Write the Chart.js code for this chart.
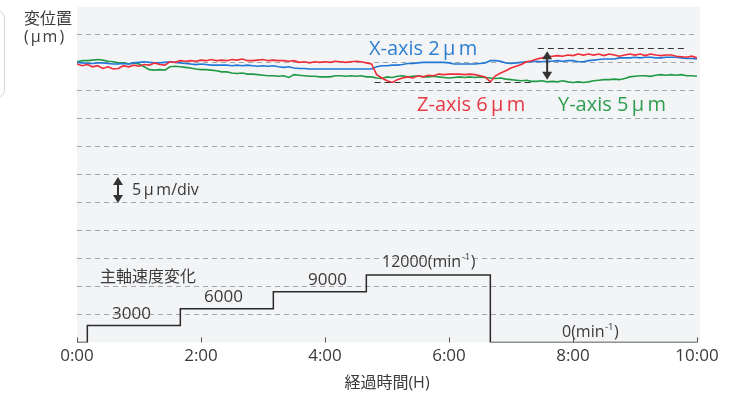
<!DOCTYPE html>
<html><head><meta charset="utf-8">
<script src="https://cdn.jsdelivr.net/npm/chart.js@4/dist/chart.umd.min.js"></script>
<style>html,body{margin:0;padding:0;background:#fff;}canvas{display:block;}</style>
</head><body>
<canvas id="c" width="735" height="393"></canvas>
<script>
// ---- data ----
// sampling grid: elapsed minutes, every 5 min from 0:00 to 10:00
const sampleMinutes = [];
for (let m = 0; m <= 600; m += 5) sampleMinutes.push(m);

// displacement in µm (absolute level on a 0–60 µm frame, 5 µm/div)
const xAxisUm = [
50.1,50.0,49.9,49.9,50.0,50.0,49.9,49.8,49.8,49.9,
49.8,50.0,50.1,50.2,50.1,50.0,50.0,50.1,50.2,50.1,
50.0,49.9,49.8,49.7,49.8,49.7,49.6,49.6,49.6,49.6,
49.5,49.6,49.5,49.6,49.5,49.4,49.5,49.4,49.5,49.3,
49.2,49.3,49.1,49.0,49.0,48.9,48.9,48.9,48.9,48.9,
48.9,48.9,48.9,48.9,48.9,48.9,48.9,48.9,49.3,49.5,
49.5,49.6,49.6,49.7,49.9,49.9,50.0,50.1,50.1,50.1,
50.1,50.1,50.0,49.8,49.8,49.8,49.8,49.8,49.9,50.0,
50.4,50.4,50.3,50.0,49.9,50.0,50.1,50.2,50.2,50.3,
50.2,50.3,50.3,50.4,50.3,50.4,50.4,50.2,50.2,50.4,
50.5,50.6,50.7,50.7,50.7,50.9,50.9,50.9,51.0,50.9,
51.0,51.0,50.9,50.9,51.0,51.0,51.0,50.9,50.8,50.8,50.7];

const yAxisUm = [
50.2,50.4,50.4,50.5,50.6,50.5,50.3,50.2,50.0,50.0,
49.8,50.0,49.8,49.3,48.8,48.7,48.8,48.7,49.3,49.4,
49.3,49.2,49.1,48.9,48.8,48.8,48.7,48.6,48.4,48.4,
48.2,48.1,48.2,48.0,48.0,47.9,47.8,47.7,47.7,47.6,
47.7,47.4,47.9,47.8,47.7,47.6,47.6,47.5,47.5,47.5,
47.7,47.7,47.6,47.7,47.6,47.7,47.5,47.5,47.3,47.2,
47.5,47.4,47.6,47.7,47.5,47.6,47.7,47.5,47.5,47.6,
47.5,47.4,47.3,47.4,47.5,47.4,47.5,47.4,47.5,47.4,
47.3,47.2,47.3,47.1,47.0,46.9,46.8,46.9,46.7,46.7,
46.8,46.6,46.7,46.6,46.8,46.6,46.5,46.6,46.5,46.6,
46.8,46.9,47.0,47.0,47.1,47.0,47.2,47.5,47.6,47.7,
47.7,47.6,47.8,47.9,47.8,47.9,47.8,47.9,47.7,47.7,47.6];

const zAxisUm = [
49.8,49.5,49.7,49.3,49.5,49.0,49.3,48.9,49.0,49.5,
49.3,49.6,49.4,49.7,49.6,50.0,49.7,49.6,50.2,50.1,
50.4,50.3,50.4,50.3,50.5,50.4,50.6,50.4,50.5,50.4,
50.6,50.5,50.7,50.4,50.4,50.5,50.6,50.4,50.5,50.4,
50.4,50.3,50.4,50.1,50.2,50.0,50.2,50.1,50.2,50.1,
50.3,50.2,50.1,50.2,50.3,50.2,50.0,49.8,47.9,47.3,
46.8,46.5,47.0,47.3,47.5,47.3,47.7,47.5,47.8,47.7,
48.0,47.9,48.0,48.0,48.0,47.9,48.0,47.9,47.7,47.5,
46.6,47.7,48.2,48.6,49.1,49.4,49.7,50.2,50.4,50.7,
50.9,51.1,51.2,51.3,51.2,51.4,51.3,51.6,51.4,51.6,
51.4,51.6,51.3,51.6,51.4,51.2,51.4,51.6,51.4,51.6,
51.3,51.6,51.4,51.3,51.4,51.4,51.2,51.1,51.0,51.2,50.9];

// spindle speed steps (min^-1) and the minute at which each step is reached
const spindleMinutes = [0, 10, 100, 190, 280, 400, 600];
const spindleSpeeds  = [0, 3000, 6000, 9000, 12000, 0, 0];

const timeTickValues = [0, 120, 240, 360, 480, 600];
const timeTickLabels = ['0:00', '2:00', '4:00', '6:00', '8:00', '10:00'];

// Z range markers (µm) shown as black dashed lines
const zRangeMax = 52.7, zRangeMin = 46.5;

// ---- chart ----
const FONT = "'Open Sans','Noto Sans CJK JP',sans-serif";
const toXY = (xs, ys) => xs.map((x, i) => ({x, y: ys[i]}));

function text(ctx, s, x, mid, size, color, spacing) {
  ctx.font = size + 'px ' + FONT;
  ctx.fillStyle = color;
  ctx.textAlign = 'left';
  ctx.textBaseline = 'alphabetic';
  ctx.letterSpacing = spacing || '0px';
  ctx.fillText(s, x, mid + 0.36 * size);
  const w = ctx.measureText(s).width;
  ctx.letterSpacing = '0px';
  return w;
}
function minText(ctx, prefix, x, mid, size, color) {
  let cx = x;
  cx += text(ctx, prefix + '(min', cx, mid, size, color);
  cx += text(ctx, '-1', cx + 0.5, mid - size * 0.32, size * 0.6, color) + 1;
  text(ctx, ')', cx, mid, size, color);
}
function dblArrow(ctx, x, y1, y2, hw, hh, color) {
  ctx.save();
  ctx.strokeStyle = color; ctx.fillStyle = color; ctx.lineWidth = 2;
  ctx.beginPath(); ctx.moveTo(x, y1 + hh - 1); ctx.lineTo(x, y2 - hh + 1); ctx.stroke();
  ctx.beginPath(); ctx.moveTo(x, y1); ctx.lineTo(x - hw, y1 + hh); ctx.lineTo(x + hw, y1 + hh); ctx.closePath(); ctx.fill();
  ctx.beginPath(); ctx.moveTo(x, y2); ctx.lineTo(x - hw, y2 - hh); ctx.lineTo(x + hw, y2 - hh); ctx.closePath(); ctx.fill();
  ctx.restore();
}

const decor = {
  id: 'decor',
  beforeDraw(chart) {
    const {ctx, chartArea: a} = chart;
    ctx.save();
    ctx.fillStyle = '#f3f4f6';
    ctx.fillRect(a.left, a.top, a.right - a.left + 3, a.bottom - a.top);
    // faint frame fragment at the far left of the reference
    ctx.strokeStyle = '#d4d4d4'; ctx.lineWidth = 1;
    ctx.beginPath(); ctx.roundRect(-20.5, 10.5, 25, 87, 8); ctx.stroke();
    ctx.restore();
  },
  afterDatasetsDraw(chart) {
    const {ctx, chartArea: a, scales} = chart;
    const xs = scales.x, ys = scales.y;
    ctx.save();
    // inward tick marks
    ctx.strokeStyle = '#555'; ctx.lineWidth = 1;
    timeTickValues.forEach(v => {
      const px = Math.round(xs.getPixelForValue(v)) + 0.5;
      ctx.beginPath(); ctx.moveTo(px, a.bottom - 5); ctx.lineTo(px, a.bottom); ctx.stroke();
    });
    // Z range dashed lines
    ctx.strokeStyle = '#333'; ctx.lineWidth = 1.2; ctx.setLineDash([6, 4]);
    let yy = Math.round(ys.getPixelForValue(zRangeMax)) + 0.5;
    ctx.beginPath(); ctx.moveTo(xs.getPixelForValue(446), yy); ctx.lineTo(xs.getPixelForValue(590), yy); ctx.stroke();
    yy = Math.round(ys.getPixelForValue(zRangeMin)) + 0.5;
    ctx.beginPath(); ctx.moveTo(xs.getPixelForValue(288), yy); ctx.lineTo(xs.getPixelForValue(440), yy); ctx.stroke();
    ctx.setLineDash([]);
    dblArrow(ctx, xs.getPixelForValue(455), ys.getPixelForValue(52.1), ys.getPixelForValue(47.0), 5, 8, '#333');
    dblArrow(ctx, 118, 177, 203, 5, 8, '#333');
    ctx.restore();

    ctx.save();
    const dark = '#3a3a3a';
    text(ctx, '変位置', 24, 18.5, 16, dark);
    text(ctx, '(µm)', 24, 36.5, 16, dark, '2px');
    text(ctx, 'X-axis 2\u2009µ\u2009m', 369, 48, 20, '#2f7fd0');
    text(ctx, 'Z-axis 6\u2009µ\u2009m', 417, 104, 20, '#e63a45');
    text(ctx, 'Y-axis 5\u2009µ\u2009m', 558, 104, 20, '#2f9e50');
    text(ctx, '5\u2009µ\u2009m/div', 132, 189, 16, dark);
    text(ctx, '主軸速度変化', 100, 276.5, 16, dark);
    text(ctx, '3000', 112, 312.5, 17, dark);
    text(ctx, '6000', 204, 296, 17, dark);
    text(ctx, '9000', 308, 279, 17, dark);
    minText(ctx, '12000', 382, 261.5, 16, dark);
    minText(ctx, '0', 562, 331.5, 16, dark);
    ctx.restore();
  }
};

new Chart(document.getElementById('c'), {
  type: 'line',
  data: {
    datasets: [
      {label: 'Z-axis', data: toXY(sampleMinutes, zAxisUm), borderColor: '#ee2d38', borderWidth: 1.6, pointRadius: 0, yAxisID: 'y', order: 0},
      {label: 'X-axis', data: toXY(sampleMinutes, xAxisUm), borderColor: '#2278d6', borderWidth: 1.6, pointRadius: 0, yAxisID: 'y', order: 1},
      {label: 'Y-axis', data: toXY(sampleMinutes, yAxisUm), borderColor: '#1f9a45', borderWidth: 1.6, pointRadius: 0, yAxisID: 'y', order: 2},
      {label: '主軸速度', data: toXY(spindleMinutes, spindleSpeeds), borderColor: '#2a2a2a', borderWidth: 1.5, pointRadius: 0, stepped: 'before', yAxisID: 'y2', order: 3}
    ]
  },
  options: {
    responsive: false,
    animation: false,
    events: [],
    layout: {padding: {left: 77, right: 38, top: 7, bottom: 0}},
    plugins: {legend: {display: false}, tooltip: {enabled: false}},
    scales: {
      x: {
        type: 'linear', min: 0, max: 600,
        afterBuildTicks: s => { s.ticks = timeTickValues.map(v => ({value: v})); },
        ticks: {
          callback: v => timeTickLabels[timeTickValues.indexOf(v)],
          color: '#3a3a3a', font: {family: FONT, size: 17}, padding: 4, maxRotation: 0, autoSkip: false
        },
        grid: {display: false, drawTicks: false, tickLength: 0},
        border: {display: false},
        title: {display: true, text: '経過時間(H)', color: '#3a3a3a', font: {family: FONT, size: 16}, padding: {top: 3, bottom: 0}}
      },
      y: {
        min: 0, max: 60,
        ticks: {display: false, stepSize: 5},
        grid: {
          drawTicks: false, lineWidth: 1,
          color: c => (c.tick.value <= 0 || c.tick.value >= 60) ? 'rgba(0,0,0,0)' : '#a5a7aa'
        },
        border: {display: false, dash: [5, 4]}
      },
      y2: {min: 0, max: 59650, display: false}
    }
  },
  plugins: [decor]
});
</script>
</body></html>
